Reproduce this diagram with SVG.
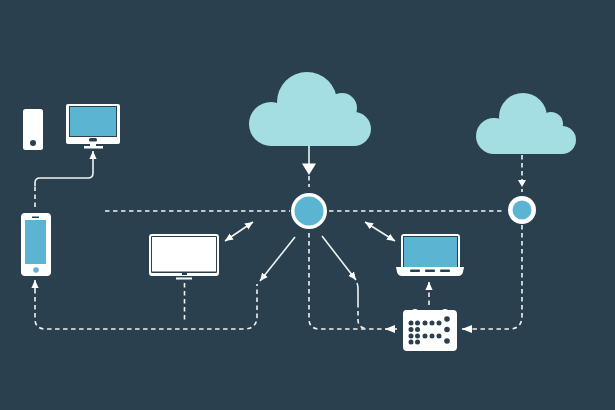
<svg xmlns="http://www.w3.org/2000/svg" width="615" height="410" viewBox="0 0 615 410">
<style>
.w{fill:#fff}
.s{fill:#5ab4d2}
.d{fill:#2a404e}
.c{fill:#a4dee2}
.l{fill:none;stroke:#eef3f3;stroke-width:1.6}
.da{stroke-dasharray:4.5 3.5}
.h{fill:#fff;stroke:none}
</style>
<defs>
<marker id="a" viewBox="0 0 10 10" refX="10" refY="5" markerWidth="8" markerHeight="8" markerUnits="userSpaceOnUse" orient="auto-start-reverse"><path d="M0 0.500L10 5L0 9.500z" fill="#fff"/></marker>
<marker id="b" viewBox="0 0 10 10" refX="10" refY="5" markerWidth="10" markerHeight="10" markerUnits="userSpaceOnUse" orient="auto-start-reverse"><path d="M0 1L10 5L0 9z" fill="#fff"/></marker>
</defs>
<rect width="615" height="410" fill="#2a404e"/>
<g id="connectors">
<path class="l da" d="M105 211H290"/>
<path class="l da" d="M329 211H504"/>
<path class="l da" d="M35 207V186"/>
<path class="l" d="M35 186V183Q35 178 40 178H88Q93 178 93 173V151" marker-end="url(#a)"/>
<path class="l da" d="M35 289V319Q35 329 46 329H244Q257 329 257 316V284"/>
<path class="l" d="M35 289V280" marker-end="url(#a)"/>
<path class="l da" d="M184.500 283V322"/>
<path class="l" d="M225 241L253 222" marker-start="url(#a)" marker-end="url(#a)"/>
<path class="l" d="M295 237L260 281" marker-end="url(#a)"/>
<path class="l da" d="M309 233V319Q309 329 320 329H385"/>
<path class="l" d="M322 236L356 280" marker-end="url(#a)"/>
<path class="l" d="M357 283Q358 285 358 290V303"/>
<path class="l da" d="M358 303V320Q358 328 368 329"/>
<path class="l" d="M365 222L395 241" marker-start="url(#a)" marker-end="url(#a)"/>
<path class="l da" d="M429 305V287"/>
<path class="l" d="M429 290V282" marker-end="url(#a)"/>
<path class="l da" d="M522 225V316Q522 329 509 329H470"/>
<path class="l" d="M472 329H462" marker-end="url(#b)"/>
<path class="l" d="M397 329H385" marker-end="url(#b)"/>
<path class="l" d="M309 146V164"/>
<path class="h" d="M302 163.500H316L309 175z"/>
<path class="l da" d="M309 176V187"/>
<path class="l da" d="M522 155V180"/>
<path class="h" d="M518 180H526L522 187z"/>
<path class="l" d="M522 189V194" stroke-dasharray="3 2"/>
</g>
<g id="cloud-large" class="c"><circle cx="271" cy="124" r="22"/><circle cx="307" cy="102" r="30"/><circle cx="342" cy="108" r="15"/><circle cx="354" cy="129" r="17"/><rect x="271" y="113" width="83" height="33"/></g>
<g id="cloud-small" class="c"><circle cx="494" cy="136" r="18"/><circle cx="523" cy="117" r="24"/><circle cx="551" cy="124" r="12"/><circle cx="562" cy="140" r="14"/><rect x="494" y="127" width="68" height="27"/></g>
<g id="hub-main"><circle class="w" cx="309" cy="211" r="18"/><circle class="s" cx="309" cy="211" r="14.500"/></g>
<g id="hub-right"><circle class="w" cx="522" cy="210" r="14"/><circle class="s" cx="522" cy="210" r="9.500"/></g>
<g id="speaker"><rect class="w" x="23" y="109" width="20" height="41" rx="2.500"/><circle class="d" cx="33" cy="143" r="3"/></g>
<g id="monitor"><rect class="w" x="66" y="104" width="54" height="40" rx="2"/><rect class="d" x="69" y="106" width="48" height="31"/><rect class="s" x="70" y="107" width="46" height="29"/><rect class="d" x="89" y="138" width="8" height="3.500" rx="1.500"/><rect class="w" x="90" y="144" width="6" height="3"/><rect class="w" x="84" y="146" width="19" height="2.500"/></g>
<g id="phone"><rect class="w" x="21" y="213" width="30" height="63" rx="4"/><rect class="s" x="25" y="220" width="21" height="44"/><rect class="d" x="32" y="216.500" width="7" height="1.500"/><circle class="s" cx="36" cy="270" r="2.800"/></g>
<g id="display"><rect class="w" x="149" y="234" width="70" height="42" rx="3"/><rect class="d" x="151" y="236" width="66" height="37" rx="1"/><rect class="w" x="152" y="237" width="64" height="34.500"/><rect class="d" x="182" y="273" width="5" height="2"/><rect class="w" x="176" y="277.500" width="16" height="2"/></g>
<g id="laptop"><rect class="w" x="401" y="234" width="59" height="38" rx="3"/><rect class="d" x="403" y="236" width="55" height="33"/><rect class="s" x="404" y="237" width="53" height="31"/><path class="w" d="M396 267H464L463 272Q462 276 458 276H402Q398 276 397 272z"/><rect class="d" x="410" y="269.500" width="10" height="2.500" rx="1"/><rect class="d" x="425" y="269.500" width="10" height="2.500" rx="1"/><rect class="d" x="440" y="269.500" width="10" height="2.500" rx="1"/></g>
<g id="controller"><path class="w" d="M406 310H412Q415 308 418 310H442Q445 308 448 310H453Q457 310 457 314V347Q457 351 453 351H407Q403 351 403 347V314Q403 310 406 310z"/>
<g class="d"><circle cx="411" cy="323" r="2.500"/><circle cx="417.500" cy="323" r="2.500"/><circle cx="425" cy="323" r="2.500"/><circle cx="432" cy="323" r="2.500"/><circle cx="439" cy="323" r="2.500"/><circle cx="447" cy="319" r="2.800"/><circle cx="411" cy="329.500" r="2.500"/><circle cx="417.500" cy="329.500" r="2.500"/><circle cx="447" cy="329.500" r="2.800"/><circle cx="411" cy="336" r="2.500"/><circle cx="417.500" cy="336" r="2.500"/><circle cx="425" cy="336" r="2.500"/><circle cx="432" cy="336" r="2.500"/><circle cx="439" cy="336" r="2.500"/><circle cx="411" cy="342" r="2.500"/><circle cx="417.500" cy="342" r="2.500"/><circle cx="447" cy="341" r="2.800"/></g></g>
</svg>
